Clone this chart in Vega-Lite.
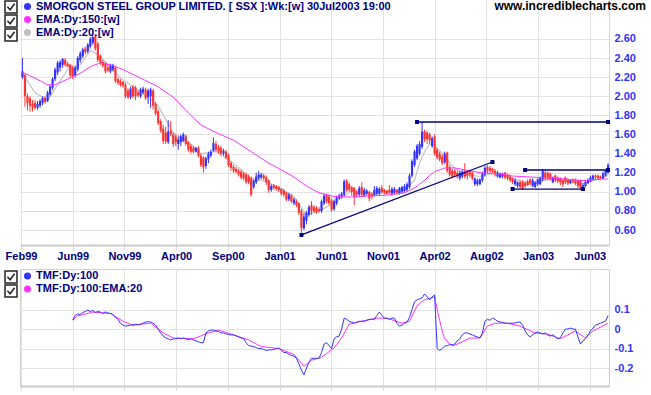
{
"$schema":"https://vega.github.io/schema/vega-lite/v6.json",
"padding":{"left":3,"top":0,"right":0,"bottom":0},
"background":"white",
"spacing":7,
"config":{"font":"Liberation Sans","view":{"stroke":null},"axis":{"labelFont":"Liberation Sans","labelFontWeight":"bold","labelFontSize":11,"gridColor":"#e2e2e2","tickColor":"#d8d8d8","domainColor":"#cccccc","labelOverlap":false},"legend":{"labelFont":"Liberation Sans"}},
"resolve":{"scale":{"x":"independent","y":"independent","color":"independent","shape":"independent"}},
"datasets":{
"px":[
{"d":"1999-02-10","o":2.20,"h":2.40,"l":2.18,"c":2.26},
{"d":"1999-02-17","o":2.22,"h":2.24,"l":1.89,"c":2.00},
{"d":"1999-02-24","o":2.00,"h":2.03,"l":1.85,"c":1.93},
{"d":"1999-03-03","o":1.98,"h":2.00,"l":1.84,"c":1.90},
{"d":"1999-03-10","o":1.92,"h":1.96,"l":1.84,"c":1.88},
{"d":"1999-03-17","o":1.93,"h":1.96,"l":1.86,"c":1.88},
{"d":"1999-03-24","o":1.88,"h":1.95,"l":1.86,"c":1.92},
{"d":"1999-03-31","o":1.90,"h":1.97,"l":1.88,"c":1.95},
{"d":"1999-04-07","o":1.93,"h":2.00,"l":1.91,"c":1.98},
{"d":"1999-04-14","o":1.98,"h":2.00,"l":1.92,"c":1.94},
{"d":"1999-04-21","o":1.95,"h":2.06,"l":1.94,"c":2.04},
{"d":"1999-04-28","o":2.02,"h":2.12,"l":2.00,"c":2.10},
{"d":"1999-05-05","o":2.09,"h":2.20,"l":2.07,"c":2.18},
{"d":"1999-05-12","o":2.18,"h":2.30,"l":2.16,"c":2.28},
{"d":"1999-05-19","o":2.25,"h":2.37,"l":2.22,"c":2.35},
{"d":"1999-05-26","o":2.30,"h":2.38,"l":2.26,"c":2.36},
{"d":"1999-06-02","o":2.33,"h":2.40,"l":2.30,"c":2.39},
{"d":"1999-06-09","o":2.38,"h":2.40,"l":2.31,"c":2.33},
{"d":"1999-06-16","o":2.34,"h":2.36,"l":2.30,"c":2.31},
{"d":"1999-06-23","o":2.33,"h":2.34,"l":2.20,"c":2.22},
{"d":"1999-06-30","o":2.30,"h":2.32,"l":2.18,"c":2.21,"t":0.046},
{"d":"1999-07-07","o":2.22,"h":2.32,"l":2.20,"c":2.30,"t":0.07},
{"d":"1999-07-14","o":2.28,"h":2.42,"l":2.26,"c":2.40,"t":0.077},
{"d":"1999-07-21","o":2.38,"h":2.47,"l":2.35,"c":2.45,"t":0.075},
{"d":"1999-07-28","o":2.42,"h":2.51,"l":2.40,"c":2.49,"t":0.085},
{"d":"1999-08-04","o":2.50,"h":2.52,"l":2.44,"c":2.46,"t":0.09},
{"d":"1999-08-11","o":2.47,"h":2.56,"l":2.45,"c":2.54,"t":0.097},
{"d":"1999-08-18","o":2.52,"h":2.62,"l":2.50,"c":2.60,"t":0.09},
{"d":"1999-08-25","o":2.56,"h":2.66,"l":2.54,"c":2.62,"t":0.095},
{"d":"1999-09-01","o":2.63,"h":2.65,"l":2.48,"c":2.50,"t":0.085},
{"d":"1999-09-08","o":2.55,"h":2.57,"l":2.36,"c":2.38,"t":0.09},
{"d":"1999-09-15","o":2.42,"h":2.44,"l":2.33,"c":2.35,"t":0.087},
{"d":"1999-09-22","o":2.36,"h":2.38,"l":2.30,"c":2.32,"t":0.08},
{"d":"1999-09-29","o":2.34,"h":2.36,"l":2.24,"c":2.26,"t":0.088},
{"d":"1999-10-06","o":2.30,"h":2.33,"l":2.25,"c":2.27,"t":0.082},
{"d":"1999-10-13","o":2.26,"h":2.34,"l":2.24,"c":2.32,"t":0.08},
{"d":"1999-10-20","o":2.28,"h":2.34,"l":2.26,"c":2.33,"t":0.075},
{"d":"1999-10-27","o":2.30,"h":2.32,"l":2.14,"c":2.16,"t":0.06},
{"d":"1999-11-03","o":2.18,"h":2.20,"l":2.12,"c":2.14,"t":0.05},
{"d":"1999-11-10","o":2.16,"h":2.18,"l":2.10,"c":2.12,"t":0.03},
{"d":"1999-11-17","o":2.15,"h":2.16,"l":2.09,"c":2.11,"t":0.02},
{"d":"1999-11-24","o":2.12,"h":2.14,"l":1.98,"c":2.00,"t":0.015},
{"d":"1999-12-01","o":2.06,"h":2.08,"l":1.97,"c":1.99,"t":0.018},
{"d":"1999-12-08","o":1.99,"h":2.10,"l":1.97,"c":2.08,"t":0.02},
{"d":"1999-12-15","o":2.10,"h":2.12,"l":1.98,"c":2.00,"t":0.02},
{"d":"1999-12-22","o":2.09,"h":2.11,"l":1.96,"c":2.00,"t":0.025},
{"d":"1999-12-29","o":2.04,"h":2.06,"l":1.99,"c":2.01,"t":0.022},
{"d":"2000-01-05","o":2.00,"h":2.09,"l":1.98,"c":2.07,"t":0.025},
{"d":"2000-01-12","o":2.04,"h":2.10,"l":2.02,"c":2.08,"t":0.03},
{"d":"2000-01-19","o":2.07,"h":2.09,"l":1.96,"c":1.98,"t":0.035},
{"d":"2000-01-26","o":1.99,"h":2.08,"l":1.92,"c":2.06,"t":0.038},
{"d":"2000-02-02","o":2.00,"h":2.09,"l":1.88,"c":2.07,"t":0.036},
{"d":"2000-02-09","o":2.06,"h":2.08,"l":1.86,"c":1.90,"t":0.03},
{"d":"2000-02-16","o":1.92,"h":1.94,"l":1.80,"c":1.82,"t":0.02},
{"d":"2000-02-23","o":1.84,"h":1.86,"l":1.70,"c":1.72,"t":0.0},
{"d":"2000-03-01","o":1.74,"h":1.76,"l":1.62,"c":1.64,"t":-0.02},
{"d":"2000-03-08","o":1.66,"h":1.70,"l":1.50,"c":1.53,"t":-0.036},
{"d":"2000-03-15","o":1.62,"h":1.68,"l":1.50,"c":1.53,"t":-0.045},
{"d":"2000-03-22","o":1.52,"h":1.75,"l":1.50,"c":1.63,"t":-0.05},
{"d":"2000-03-29","o":1.64,"h":1.74,"l":1.58,"c":1.60,"t":-0.056},
{"d":"2000-04-05","o":1.60,"h":1.62,"l":1.47,"c":1.50,"t":-0.05},
{"d":"2000-04-12","o":1.58,"h":1.60,"l":1.48,"c":1.52,"t":-0.05},
{"d":"2000-04-19","o":1.50,"h":1.58,"l":1.44,"c":1.55,"t":-0.046},
{"d":"2000-04-26","o":1.52,"h":1.60,"l":1.48,"c":1.58,"t":-0.05},
{"d":"2000-05-03","o":1.53,"h":1.62,"l":1.52,"c":1.60,"t":-0.046},
{"d":"2000-05-10","o":1.58,"h":1.60,"l":1.48,"c":1.50,"t":-0.05},
{"d":"2000-05-17","o":1.52,"h":1.53,"l":1.42,"c":1.44,"t":-0.055},
{"d":"2000-05-24","o":1.48,"h":1.50,"l":1.40,"c":1.42,"t":-0.05},
{"d":"2000-05-31","o":1.46,"h":1.48,"l":1.40,"c":1.42,"t":-0.056},
{"d":"2000-06-07","o":1.42,"h":1.47,"l":1.41,"c":1.46,"t":-0.06},
{"d":"2000-06-14","o":1.46,"h":1.48,"l":1.36,"c":1.38,"t":-0.065},
{"d":"2000-06-21","o":1.38,"h":1.40,"l":1.26,"c":1.28,"t":-0.07},
{"d":"2000-06-28","o":1.36,"h":1.37,"l":1.20,"c":1.26,"t":-0.07},
{"d":"2000-07-05","o":1.27,"h":1.37,"l":1.24,"c":1.35,"t":-0.02},
{"d":"2000-07-12","o":1.34,"h":1.42,"l":1.30,"c":1.40,"t":-0.01},
{"d":"2000-07-19","o":1.38,"h":1.44,"l":1.36,"c":1.42,"t":-0.005},
{"d":"2000-07-26","o":1.43,"h":1.57,"l":1.42,"c":1.51,"t":-0.005},
{"d":"2000-08-02","o":1.50,"h":1.53,"l":1.42,"c":1.44,"t":-0.01},
{"d":"2000-08-09","o":1.47,"h":1.49,"l":1.40,"c":1.42,"t":-0.012},
{"d":"2000-08-16","o":1.46,"h":1.48,"l":1.38,"c":1.40,"t":-0.02},
{"d":"2000-08-23","o":1.40,"h":1.45,"l":1.38,"c":1.43,"t":-0.02},
{"d":"2000-08-30","o":1.42,"h":1.44,"l":1.34,"c":1.36,"t":-0.025},
{"d":"2000-09-06","o":1.38,"h":1.40,"l":1.26,"c":1.28,"t":-0.028},
{"d":"2000-09-13","o":1.30,"h":1.32,"l":1.22,"c":1.25,"t":-0.03},
{"d":"2000-09-20","o":1.26,"h":1.28,"l":1.20,"c":1.22,"t":-0.03},
{"d":"2000-09-27","o":1.24,"h":1.26,"l":1.19,"c":1.21,"t":-0.035},
{"d":"2000-10-04","o":1.22,"h":1.24,"l":1.16,"c":1.18,"t":-0.04},
{"d":"2000-10-11","o":1.21,"h":1.23,"l":1.13,"c":1.15,"t":-0.046},
{"d":"2000-10-18","o":1.19,"h":1.21,"l":1.12,"c":1.14,"t":-0.05},
{"d":"2000-10-25","o":1.18,"h":1.20,"l":1.08,"c":1.10,"t":-0.07},
{"d":"2000-11-01","o":1.16,"h":1.18,"l":1.08,"c":1.10,"t":-0.085},
{"d":"2000-11-08","o":1.14,"h":1.16,"l":0.95,"c":0.97,"t":-0.087},
{"d":"2000-11-15","o":1.05,"h":1.13,"l":1.03,"c":1.12,"t":-0.09},
{"d":"2000-11-22","o":1.10,"h":1.20,"l":1.08,"c":1.16,"t":-0.095},
{"d":"2000-11-29","o":1.14,"h":1.22,"l":1.12,"c":1.18,"t":-0.10},
{"d":"2000-12-06","o":1.15,"h":1.20,"l":1.13,"c":1.18,"t":-0.10},
{"d":"2000-12-13","o":1.17,"h":1.19,"l":1.12,"c":1.14,"t":-0.105},
{"d":"2000-12-20","o":1.15,"h":1.17,"l":1.07,"c":1.10,"t":-0.11},
{"d":"2000-12-27","o":1.12,"h":1.13,"l":0.99,"c":1.02,"t":-0.107},
{"d":"2001-01-03","o":1.02,"h":1.08,"l":1.00,"c":1.06,"t":-0.107},
{"d":"2001-01-10","o":1.07,"h":1.08,"l":1.02,"c":1.04,"t":-0.105},
{"d":"2001-01-17","o":1.06,"h":1.07,"l":1.01,"c":1.03,"t":-0.10},
{"d":"2001-01-24","o":1.05,"h":1.06,"l":1.00,"c":1.02,"t":-0.097},
{"d":"2001-01-31","o":1.03,"h":1.04,"l":0.96,"c":0.98,"t":-0.11},
{"d":"2001-02-07","o":1.01,"h":1.03,"l":0.95,"c":0.97,"t":-0.12},
{"d":"2001-02-14","o":0.99,"h":1.00,"l":0.90,"c":0.92,"t":-0.12},
{"d":"2001-02-21","o":0.92,"h":0.99,"l":0.90,"c":0.97,"t":-0.13},
{"d":"2001-02-28","o":0.96,"h":0.98,"l":0.88,"c":0.90,"t":-0.135},
{"d":"2001-03-07","o":0.88,"h":0.94,"l":0.86,"c":0.92,"t":-0.138},
{"d":"2001-03-14","o":0.90,"h":0.92,"l":0.84,"c":0.86,"t":-0.15},
{"d":"2001-03-21","o":0.88,"h":0.89,"l":0.76,"c":0.78,"t":-0.18},
{"d":"2001-03-28","o":0.80,"h":0.82,"l":0.57,"c":0.62,"t":-0.21},
{"d":"2001-04-04","o":0.62,"h":0.78,"l":0.60,"c":0.74,"t":-0.235},
{"d":"2001-04-11","o":0.70,"h":0.80,"l":0.66,"c":0.78,"t":-0.20},
{"d":"2001-04-18","o":0.76,"h":0.86,"l":0.74,"c":0.84,"t":-0.17},
{"d":"2001-04-25","o":0.86,"h":0.90,"l":0.76,"c":0.80,"t":-0.15},
{"d":"2001-05-02","o":0.84,"h":0.86,"l":0.78,"c":0.80,"t":-0.15},
{"d":"2001-05-09","o":0.83,"h":0.85,"l":0.77,"c":0.79,"t":-0.15},
{"d":"2001-05-16","o":0.82,"h":0.84,"l":0.78,"c":0.80,"t":-0.15},
{"d":"2001-05-23","o":0.80,"h":0.92,"l":0.78,"c":0.90,"t":-0.12},
{"d":"2001-05-30","o":0.88,"h":0.98,"l":0.86,"c":0.96,"t":-0.077},
{"d":"2001-06-06","o":0.97,"h":0.98,"l":0.88,"c":0.90,"t":-0.07},
{"d":"2001-06-13","o":0.95,"h":0.97,"l":0.86,"c":0.88,"t":-0.085},
{"d":"2001-06-20","o":0.91,"h":0.93,"l":0.79,"c":0.81,"t":-0.10},
{"d":"2001-06-27","o":0.82,"h":0.92,"l":0.80,"c":0.90,"t":-0.05},
{"d":"2001-07-04","o":0.88,"h":0.96,"l":0.86,"c":0.94,"t":-0.04},
{"d":"2001-07-11","o":0.93,"h":0.98,"l":0.92,"c":0.96,"t":-0.036},
{"d":"2001-07-18","o":0.95,"h":1.00,"l":0.93,"c":0.98,"t":0.0},
{"d":"2001-07-25","o":0.97,"h":1.13,"l":0.95,"c":1.11,"t":0.056},
{"d":"2001-08-01","o":1.12,"h":1.13,"l":1.00,"c":1.02,"t":0.05},
{"d":"2001-08-08","o":1.08,"h":1.10,"l":1.00,"c":1.02,"t":0.04},
{"d":"2001-08-15","o":1.05,"h":1.06,"l":0.96,"c":1.00,"t":0.035},
{"d":"2001-08-22","o":1.04,"h":1.05,"l":0.86,"c":0.95,"t":0.03},
{"d":"2001-08-29","o":1.00,"h":1.02,"l":0.94,"c":0.97,"t":0.035},
{"d":"2001-09-05","o":0.97,"h":1.06,"l":0.95,"c":1.04,"t":0.04},
{"d":"2001-09-12","o":1.05,"h":1.10,"l":0.95,"c":0.97,"t":0.04},
{"d":"2001-09-19","o":0.96,"h":1.04,"l":0.95,"c":1.02,"t":0.04},
{"d":"2001-09-26","o":0.98,"h":1.03,"l":0.96,"c":1.01,"t":0.045},
{"d":"2001-10-03","o":1.00,"h":1.01,"l":0.90,"c":0.93,"t":0.05},
{"d":"2001-10-10","o":0.98,"h":0.99,"l":0.92,"c":0.95,"t":0.05},
{"d":"2001-10-17","o":0.96,"h":1.06,"l":0.95,"c":1.02,"t":0.05},
{"d":"2001-10-24","o":0.98,"h":1.06,"l":0.96,"c":1.04,"t":0.07},
{"d":"2001-10-31","o":0.98,"h":1.05,"l":0.96,"c":1.03,"t":0.087},
{"d":"2001-11-07","o":1.04,"h":1.07,"l":0.98,"c":1.00,"t":0.07},
{"d":"2001-11-14","o":1.02,"h":1.03,"l":0.97,"c":0.99,"t":0.056},
{"d":"2001-11-21","o":1.01,"h":1.02,"l":0.97,"c":0.98,"t":0.055},
{"d":"2001-11-28","o":1.02,"h":1.07,"l":0.98,"c":0.99,"t":0.05},
{"d":"2001-12-05","o":0.98,"h":1.05,"l":0.96,"c":1.03,"t":0.056},
{"d":"2001-12-12","o":0.99,"h":1.05,"l":0.97,"c":1.03,"t":0.056},
{"d":"2001-12-19","o":1.02,"h":1.03,"l":0.97,"c":0.99,"t":0.03},
{"d":"2001-12-26","o":0.98,"h":1.05,"l":0.97,"c":1.04,"t":0.015},
{"d":"2002-01-02","o":1.00,"h":1.06,"l":0.98,"c":1.05,"t":0.02},
{"d":"2002-01-09","o":1.01,"h":1.08,"l":0.99,"c":1.06,"t":0.03},
{"d":"2002-01-16","o":1.02,"h":1.10,"l":1.00,"c":1.08,"t":0.036},
{"d":"2002-01-23","o":1.05,"h":1.19,"l":1.03,"c":1.17,"t":0.06},
{"d":"2002-01-30","o":1.17,"h":1.34,"l":1.15,"c":1.32,"t":0.10},
{"d":"2002-02-06","o":1.28,"h":1.44,"l":1.26,"c":1.42,"t":0.14},
{"d":"2002-02-13","o":1.35,"h":1.50,"l":1.33,"c":1.48,"t":0.15},
{"d":"2002-02-20","o":1.40,"h":1.53,"l":1.38,"c":1.50,"t":0.155},
{"d":"2002-02-27","o":1.47,"h":1.73,"l":1.45,"c":1.63,"t":0.16},
{"d":"2002-03-06","o":1.63,"h":1.65,"l":1.52,"c":1.55,"t":0.18},
{"d":"2002-03-13","o":1.62,"h":1.64,"l":1.50,"c":1.55,"t":0.165},
{"d":"2002-03-20","o":1.60,"h":1.62,"l":1.50,"c":1.54,"t":0.15},
{"d":"2002-03-27","o":1.48,"h":1.58,"l":1.46,"c":1.56,"t":0.165},
{"d":"2002-04-03","o":1.58,"h":1.60,"l":1.38,"c":1.40,"t":0.175},
{"d":"2002-04-10","o":1.44,"h":1.46,"l":1.34,"c":1.36,"t":-0.10},
{"d":"2002-04-17","o":1.40,"h":1.42,"l":1.32,"c":1.34,"t":-0.11},
{"d":"2002-04-24","o":1.37,"h":1.39,"l":1.28,"c":1.30,"t":-0.10},
{"d":"2002-05-01","o":1.31,"h":1.42,"l":1.29,"c":1.40,"t":-0.087},
{"d":"2002-05-08","o":1.41,"h":1.42,"l":1.20,"c":1.22,"t":-0.085},
{"d":"2002-05-15","o":1.26,"h":1.28,"l":1.16,"c":1.18,"t":-0.08},
{"d":"2002-05-22","o":1.22,"h":1.24,"l":1.14,"c":1.16,"t":-0.08},
{"d":"2002-05-29","o":1.22,"h":1.24,"l":1.16,"c":1.18,"t":-0.077},
{"d":"2002-06-05","o":1.20,"h":1.22,"l":1.14,"c":1.16,"t":-0.06},
{"d":"2002-06-12","o":1.14,"h":1.22,"l":1.12,"c":1.20,"t":-0.05},
{"d":"2002-06-19","o":1.16,"h":1.23,"l":1.14,"c":1.21,"t":-0.03},
{"d":"2002-06-26","o":1.22,"h":1.30,"l":1.14,"c":1.16,"t":-0.02},
{"d":"2002-07-03","o":1.21,"h":1.23,"l":1.13,"c":1.17,"t":-0.02},
{"d":"2002-07-10","o":1.22,"h":1.23,"l":1.15,"c":1.18,"t":-0.025},
{"d":"2002-07-17","o":1.20,"h":1.21,"l":1.12,"c":1.14,"t":-0.03},
{"d":"2002-07-24","o":1.08,"h":1.15,"l":1.06,"c":1.14,"t":-0.036},
{"d":"2002-07-31","o":1.08,"h":1.14,"l":1.06,"c":1.12,"t":-0.04},
{"d":"2002-08-07","o":1.08,"h":1.14,"l":1.07,"c":1.13,"t":-0.046},
{"d":"2002-08-14","o":1.12,"h":1.21,"l":1.10,"c":1.19,"t":-0.02},
{"d":"2002-08-21","o":1.18,"h":1.27,"l":1.16,"c":1.25,"t":0.04},
{"d":"2002-08-28","o":1.26,"h":1.28,"l":1.19,"c":1.22,"t":0.05},
{"d":"2002-09-04","o":1.25,"h":1.27,"l":1.20,"c":1.22,"t":0.045},
{"d":"2002-09-11","o":1.24,"h":1.25,"l":1.19,"c":1.21,"t":0.056},
{"d":"2002-09-18","o":1.22,"h":1.24,"l":1.16,"c":1.18,"t":0.05},
{"d":"2002-09-25","o":1.16,"h":1.22,"l":1.15,"c":1.20,"t":0.04},
{"d":"2002-10-02","o":1.15,"h":1.20,"l":1.14,"c":1.19,"t":0.036},
{"d":"2002-10-09","o":1.16,"h":1.20,"l":1.14,"c":1.19,"t":0.035},
{"d":"2002-10-16","o":1.20,"h":1.21,"l":1.13,"c":1.15,"t":0.03},
{"d":"2002-10-23","o":1.18,"h":1.19,"l":1.12,"c":1.14,"t":0.03},
{"d":"2002-10-30","o":1.16,"h":1.18,"l":1.10,"c":1.12,"t":0.03},
{"d":"2002-11-06","o":1.14,"h":1.15,"l":1.08,"c":1.10,"t":0.03},
{"d":"2002-11-13","o":1.08,"h":1.14,"l":1.06,"c":1.12,"t":0.032},
{"d":"2002-11-20","o":1.06,"h":1.11,"l":1.04,"c":1.10,"t":0.035},
{"d":"2002-11-27","o":1.10,"h":1.12,"l":1.03,"c":1.05,"t":0.036},
{"d":"2002-12-04","o":1.10,"h":1.12,"l":1.02,"c":1.03,"t":0.02},
{"d":"2002-12-11","o":1.09,"h":1.11,"l":1.04,"c":1.06,"t":-0.01},
{"d":"2002-12-18","o":1.11,"h":1.13,"l":1.06,"c":1.07,"t":-0.03},
{"d":"2002-12-25","o":1.13,"h":1.14,"l":1.07,"c":1.09,"t":-0.04},
{"d":"2003-01-01","o":1.06,"h":1.14,"l":1.05,"c":1.12,"t":-0.03},
{"d":"2003-01-08","o":1.05,"h":1.11,"l":1.04,"c":1.10,"t":-0.02},
{"d":"2003-01-15","o":1.08,"h":1.14,"l":1.06,"c":1.13,"t":-0.015},
{"d":"2003-01-22","o":1.08,"h":1.16,"l":1.07,"c":1.15,"t":-0.02},
{"d":"2003-01-29","o":1.13,"h":1.24,"l":1.11,"c":1.22,"t":-0.025},
{"d":"2003-02-05","o":1.20,"h":1.22,"l":1.12,"c":1.14,"t":-0.02},
{"d":"2003-02-12","o":1.20,"h":1.21,"l":1.12,"c":1.14,"t":-0.03},
{"d":"2003-02-19","o":1.19,"h":1.20,"l":1.12,"c":1.13,"t":-0.036},
{"d":"2003-02-26","o":1.10,"h":1.16,"l":1.09,"c":1.15,"t":-0.03},
{"d":"2003-03-05","o":1.17,"h":1.18,"l":1.10,"c":1.12,"t":-0.04},
{"d":"2003-03-12","o":1.15,"h":1.16,"l":1.09,"c":1.11,"t":-0.05},
{"d":"2003-03-19","o":1.14,"h":1.15,"l":1.07,"c":1.10,"t":-0.045},
{"d":"2003-03-26","o":1.12,"h":1.13,"l":1.05,"c":1.08,"t":-0.02},
{"d":"2003-04-02","o":1.15,"h":1.16,"l":1.08,"c":1.10,"t":0.0},
{"d":"2003-04-09","o":1.13,"h":1.14,"l":1.07,"c":1.09,"t":0.0},
{"d":"2003-04-16","o":1.09,"h":1.13,"l":1.08,"c":1.12,"t":0.005},
{"d":"2003-04-23","o":1.13,"h":1.14,"l":1.09,"c":1.11,"t":0.0},
{"d":"2003-04-30","o":1.13,"h":1.14,"l":1.07,"c":1.09,"t":0.0},
{"d":"2003-05-07","o":1.12,"h":1.13,"l":1.04,"c":1.06,"t":-0.04},
{"d":"2003-05-14","o":1.12,"h":1.13,"l":1.02,"c":1.04,"t":-0.077},
{"d":"2003-05-21","o":1.03,"h":1.09,"l":1.02,"c":1.07,"t":-0.06},
{"d":"2003-05-28","o":1.06,"h":1.12,"l":1.05,"c":1.10,"t":-0.05},
{"d":"2003-06-04","o":1.09,"h":1.14,"l":1.08,"c":1.12,"t":-0.03},
{"d":"2003-06-11","o":1.11,"h":1.17,"l":1.10,"c":1.15,"t":-0.01},
{"d":"2003-06-18","o":1.13,"h":1.18,"l":1.12,"c":1.17,"t":0.005},
{"d":"2003-06-25","o":1.17,"h":1.18,"l":1.13,"c":1.15,"t":0.02},
{"d":"2003-07-02","o":1.17,"h":1.18,"l":1.13,"c":1.14,"t":0.025},
{"d":"2003-07-09","o":1.16,"h":1.17,"l":1.13,"c":1.14,"t":0.03},
{"d":"2003-07-16","o":1.14,"h":1.21,"l":1.13,"c":1.19,"t":0.036},
{"d":"2003-07-23","o":1.17,"h":1.24,"l":1.16,"c":1.22,"t":0.04},
{"d":"2003-07-30","o":1.20,"h":1.30,"l":1.19,"c":1.28,"t":0.07}
],
"ema":[
{"d":"1999-02-10","a":2.25,"b":2.24},
{"d":"1999-03-17","a":2.19,"b":2.04},
{"d":"1999-04-21","a":2.12,"b":1.96},
{"d":"1999-05-12","a":2.12,"b":2.08},
{"d":"1999-06-16","a":2.18,"b":2.28},
{"d":"1999-07-21","a":2.24,"b":2.33},
{"d":"1999-08-18","a":2.31,"b":2.48},
{"d":"1999-09-15","a":2.35,"b":2.42},
{"d":"1999-10-13","a":2.33,"b":2.30},
{"d":"1999-11-17","a":2.28,"b":2.17},
{"d":"2000-01-05","a":2.19,"b":2.05},
{"d":"2000-02-23","a":2.10,"b":1.90},
{"d":"2000-04-05","a":1.99,"b":1.62},
{"d":"2000-05-24","a":1.80,"b":1.50},
{"d":"2000-06-21","a":1.70,"b":1.40},
{"d":"2000-08-02","a":1.62,"b":1.42},
{"d":"2000-09-20","a":1.54,"b":1.30},
{"d":"2000-11-08","a":1.42,"b":1.14},
{"d":"2000-12-27","a":1.30,"b":1.10},
{"d":"2001-01-31","a":1.23,"b":1.03},
{"d":"2001-03-07","a":1.155,"b":0.95},
{"d":"2001-04-11","a":1.06,"b":0.76},
{"d":"2001-05-16","a":0.99,"b":0.80},
{"d":"2001-06-27","a":0.95,"b":0.88},
{"d":"2001-08-15","a":0.945,"b":1.01},
{"d":"2001-09-26","a":0.955,"b":0.99},
{"d":"2001-11-21","a":0.965,"b":1.00},
{"d":"2002-01-09","a":0.99,"b":1.02},
{"d":"2002-02-06","a":1.04,"b":1.12},
{"d":"2002-02-20","a":1.08,"b":1.30},
{"d":"2002-03-06","a":1.12,"b":1.42},
{"d":"2002-03-20","a":1.17,"b":1.50},
{"d":"2002-04-03","a":1.21,"b":1.48},
{"d":"2002-05-01","a":1.25,"b":1.38},
{"d":"2002-05-15","a":1.25,"b":1.30},
{"d":"2002-05-29","a":1.25,"b":1.25},
{"d":"2002-06-26","a":1.23,"b":1.18},
{"d":"2002-08-07","a":1.20,"b":1.16},
{"d":"2002-09-25","a":1.19,"b":1.20},
{"d":"2002-11-06","a":1.165,"b":1.14},
{"d":"2002-12-25","a":1.155,"b":1.08},
{"d":"2003-02-12","a":1.145,"b":1.13},
{"d":"2003-04-02","a":1.135,"b":1.12},
{"d":"2003-05-14","a":1.115,"b":1.08},
{"d":"2003-07-02","a":1.13,"b":1.13},
{"d":"2003-07-30","a":1.135,"b":1.17}
],
"te":[
{"d":"1999-06-30","v":0.046},{"d":"1999-07-14","v":0.067},{"d":"1999-08-25","v":0.087},{"d":"1999-10-13","v":0.08},
{"d":"1999-11-17","v":0.04},{"d":"1999-12-15","v":0.02},{"d":"2000-02-02","v":0.03},{"d":"2000-03-08","v":-0.02},
{"d":"2000-04-05","v":-0.046},{"d":"2000-05-31","v":-0.05},{"d":"2000-07-12","v":-0.02},{"d":"2000-08-09","v":-0.005},
{"d":"2000-09-20","v":-0.03},{"d":"2000-11-01","v":-0.056},{"d":"2000-12-06","v":-0.09},{"d":"2001-01-24","v":-0.10},
{"d":"2001-03-07","v":-0.13},{"d":"2001-04-04","v":-0.19},{"d":"2001-04-25","v":-0.16},{"d":"2001-05-23","v":-0.145},
{"d":"2001-06-27","v":-0.097},{"d":"2001-07-18","v":-0.046},{"d":"2001-08-08","v":0.026},{"d":"2001-09-12","v":0.04},
{"d":"2001-10-24","v":0.056},{"d":"2001-11-21","v":0.056},{"d":"2002-01-02","v":0.03},{"d":"2002-01-23","v":0.04},
{"d":"2002-02-13","v":0.12},{"d":"2002-03-06","v":0.15},{"d":"2002-04-03","v":0.165},{"d":"2002-04-10","v":0.10},
{"d":"2002-04-24","v":-0.01},{"d":"2002-05-01","v":-0.05},{"d":"2002-05-22","v":-0.087},{"d":"2002-06-12","v":-0.072},
{"d":"2002-07-10","v":-0.046},{"d":"2002-08-07","v":-0.046},{"d":"2002-08-28","v":0.015},{"d":"2002-09-18","v":0.03},
{"d":"2002-10-23","v":0.03},{"d":"2002-11-27","v":0.015},{"d":"2003-01-08","v":-0.02},{"d":"2003-02-12","v":-0.026},
{"d":"2003-03-19","v":-0.05},{"d":"2003-04-30","v":-0.01},{"d":"2003-05-28","v":-0.046},{"d":"2003-06-18","v":-0.01},
{"d":"2003-07-30","v":0.03}
],
"tl":[
{"d":"2001-03-28","p":0.548,"g":"a"},{"d":"2002-09-11","p":1.312,"g":"a"},
{"d":"2002-02-13","p":1.731,"g":"b"},{"d":"2003-07-30","p":1.731,"g":"b"},
{"d":"2002-12-11","p":1.228,"g":"c"},{"d":"2003-07-30","p":1.228,"g":"c"},
{"d":"2002-11-06","p":1.029,"g":"d"},{"d":"2003-05-21","p":1.029,"g":"d"}
],
"leg1":[{"s":"SMORGON STEEL GROUP LIMITED. [ SSX ]:Wk:[w]  30Jul2003 19:00"},{"s":"EMA:Dy:150:[w]"},{"s":"EMA:Dy:20:[w]"}],
"leg2":[{"s":"TMF:Dy:100"},{"s":"TMF:Dy:100:EMA:20"}],
"chk":[{"k":"1"}]
},
"vconcat":[
{
"width":589,"height":245,
"title":{"text":"www.incrediblecharts.com","anchor":"end","frame":"group","orient":"top","offset":-13,"dx":37,"fontSize":12,"fontWeight":"bold","color":"#000000","font":"Liberation Sans"},
"encoding":{"x":{"field":"d","type":"temporal","title":null,
 "scale":{"type":"utc","domain":[{"year":1999,"month":2,"date":3,"hours":5,"utc":true},{"year":2003,"month":8,"date":1,"hours":14,"utc":true}]},
 "axis":{"values":[{"year":1999,"month":2,"date":6,"utc":true},{"year":1999,"month":6,"date":30,"utc":true},{"year":1999,"month":11,"date":21,"utc":true},{"year":2000,"month":4,"date":13,"utc":true},{"year":2000,"month":9,"date":4,"utc":true},{"year":2001,"month":1,"date":26,"utc":true},{"year":2001,"month":6,"date":19,"utc":true},{"year":2001,"month":11,"date":10,"utc":true},{"year":2002,"month":4,"date":3,"utc":true},{"year":2002,"month":8,"date":25,"utc":true},{"year":2003,"month":1,"date":16,"utc":true},{"year":2003,"month":6,"date":9,"utc":true}],
 "tickCount":30,"format":"%b%y","labelColor":"#000080","labelFontSize":11,"labelFontWeight":"bold","labelPadding":0,"tickSize":5,"grid":true,"gridColor":"#e2e2e2","domainColor":"#cccccc","domainWidth":2,"labelFlush":false,"labelOverlap":false,"title":null}}},
"layer":[
{"data":{"name":"ema"},"mark":{"type":"line","color":"#c4c4c4","strokeWidth":1.2},
 "encoding":{"y":{"field":"b","type":"quantitative","title":null,"scale":{"domain":[0.443,3.008],"nice":false,"zero":false},
 "axis":{"orient":"right","values":[0.6,0.8,1.0,1.2,1.4,1.6,1.8,2.0,2.2,2.4,2.6],"tickCount":30,"format":".2f","labelColor":"#3333ff","labelFontSize":11,"labelFontWeight":"bold","ticks":false,"labelPadding":5,"labelOverlap":false,"labelFlush":false,"grid":true,"gridColor":"#e2e2e2","domainColor":"#d8d8d8","title":null}}}},
{"data":{"name":"px"},"mark":{"type":"rule","strokeWidth":1},
 "encoding":{"y":{"field":"l","type":"quantitative","title":null},"y2":{"field":"h"},
 "color":{"condition":{"test":"datum.c >= datum.o","value":"#3333ff"},"value":"#ff3333"}}},
{"data":{"name":"px"},"mark":{"type":"rule","strokeWidth":2.2},
 "encoding":{"y":{"field":"o","type":"quantitative","title":null},"y2":{"field":"c"},
 "color":{"condition":{"test":"datum.c >= datum.o","value":"#3333ff"},"value":"#ff3333"}}},
{"data":{"name":"ema"},"mark":{"type":"line","color":"#ff33ff","strokeWidth":1},
 "encoding":{"y":{"field":"a","type":"quantitative","title":null}}},
{"data":{"name":"tl"},"mark":{"type":"line","color":"#000080","strokeWidth":1.3},
 "encoding":{"y":{"field":"p","type":"quantitative","title":null},"detail":{"field":"g"}}},
{"data":{"name":"tl"},"mark":{"type":"point","shape":"square","filled":true,"color":"#000080","size":16,"opacity":1},
 "encoding":{"y":{"field":"p","type":"quantitative","title":null}}},
{"data":{"name":"leg1"},"transform":[{"filter":"false"}],"mark":{"type":"point","filled":true,"opacity":1},
 "encoding":{"color":{"field":"s","type":"nominal","scale":{"domain":["SMORGON STEEL GROUP LIMITED. [ SSX ]:Wk:[w]  30Jul2003 19:00","EMA:Dy:150:[w]","EMA:Dy:20:[w]"],"range":["#3333ff","#ff33ff","#c0c0c0"]},
 "legend":{"orient":"none","legendX":2,"legendY":1,"title":null,"symbolType":"circle","symbolSize":50,"labelFontSize":11,"labelFontWeight":"bold","labelColor":"#000080","labelLimit":600,"rowPadding":1,"padding":0,"labelOffset":3}}}},
{"data":{"name":"chk"},"transform":[{"filter":"false"}],"mark":{"type":"point","filled":false,"color":"#222222","strokeWidth":1.3,"opacity":1},
 "encoding":{"shape":{"field":"k","type":"nominal","scale":{"domain":["1"],"range":["M-1,-1H1V1H-1Z M-0.6,-0.05L-0.15,0.45L0.6,-0.55 M-1,1.333H1V3.333H-1Z M-0.6,2.283L-0.15,2.783L0.6,1.783 M-1,3.667H1V5.667H-1Z M-0.6,4.617L-0.15,5.117L0.6,4.117"]},
 "legend":{"orient":"none","legendX":-16,"legendY":0,"title":null,"symbolSize":144,"labelExpr":"''","padding":0}}}}
]
},
{
"width":589,"height":117,
"view":{"stroke":"#d0d0d0"},
"encoding":{"x":{"field":"d","type":"temporal","title":null,
 "scale":{"type":"utc","domain":[{"year":1999,"month":2,"date":3,"hours":5,"utc":true},{"year":2003,"month":8,"date":1,"hours":14,"utc":true}]},
 "axis":{"values":[{"year":1999,"month":2,"date":6,"utc":true},{"year":1999,"month":6,"date":30,"utc":true},{"year":1999,"month":11,"date":21,"utc":true},{"year":2000,"month":4,"date":13,"utc":true},{"year":2000,"month":9,"date":4,"utc":true},{"year":2001,"month":1,"date":26,"utc":true},{"year":2001,"month":6,"date":19,"utc":true},{"year":2001,"month":11,"date":10,"utc":true},{"year":2002,"month":4,"date":3,"utc":true},{"year":2002,"month":8,"date":25,"utc":true},{"year":2003,"month":1,"date":16,"utc":true},{"year":2003,"month":6,"date":9,"utc":true}],
 "tickCount":30,"labels":false,"tickSize":4,"grid":true,"gridColor":"#e2e2e2","domainColor":"#cccccc","domainWidth":2,"title":null}}},
"layer":[
{"mark":{"type":"rule","color":"#8a8ae6","strokeWidth":1},
 "encoding":{"y":{"datum":0,"type":"quantitative","title":null,"scale":{"domain":[-0.292,0.308],"nice":false,"zero":false},
 "axis":{"orient":"right","values":[-0.2,-0.1,0,0.1],"tickCount":30,"labelExpr":"datum.value == 0 ? '0' : (datum.value < 0 ? '-' + format(-datum.value, '.1f') : format(datum.value, '.1f'))","labelColor":"#3333ff","labelFontSize":11,"labelFontWeight":"bold","ticks":false,"labelPadding":5,"labelOverlap":false,"labelFlush":false,"grid":true,"gridColor":"#e2e2e2","domainColor":"#d0d0d0","title":null}}}},
{"data":{"name":"te"},"mark":{"type":"line","color":"#ff33ff","strokeWidth":1},
 "encoding":{"y":{"field":"v","type":"quantitative","title":null}}},
{"data":{"name":"px"},"transform":[{"filter":"isValid(datum.t)"}],"mark":{"type":"line","color":"#3333ff","strokeWidth":1},
 "encoding":{"y":{"field":"t","type":"quantitative","title":null}}},
{"data":{"name":"leg2"},"transform":[{"filter":"false"}],"mark":{"type":"point","filled":true,"opacity":1},
 "encoding":{"color":{"field":"s","type":"nominal","scale":{"domain":["TMF:Dy:100","TMF:Dy:100:EMA:20"],"range":["#3333ff","#ff33ff"]},
 "legend":{"orient":"none","legendX":2,"legendY":1.5,"title":null,"symbolType":"circle","symbolSize":50,"labelFontSize":11,"labelFontWeight":"bold","labelColor":"#000080","labelLimit":600,"rowPadding":1,"padding":0,"labelOffset":3}}}},
{"data":{"name":"chk"},"transform":[{"filter":"false"}],"mark":{"type":"point","filled":false,"color":"#222222","strokeWidth":1.3,"opacity":1},
 "encoding":{"shape":{"field":"k","type":"nominal","scale":{"domain":["1"],"range":["M-1,-1H1V1H-1Z M-0.6,-0.05L-0.15,0.45L0.6,-0.55 M-1,1.333H1V3.333H-1Z M-0.6,2.283L-0.15,2.783L0.6,1.783"]},
 "legend":{"orient":"none","legendX":-16,"legendY":1,"title":null,"symbolSize":144,"labelExpr":"''","padding":0}}}}
]
}
]
}
